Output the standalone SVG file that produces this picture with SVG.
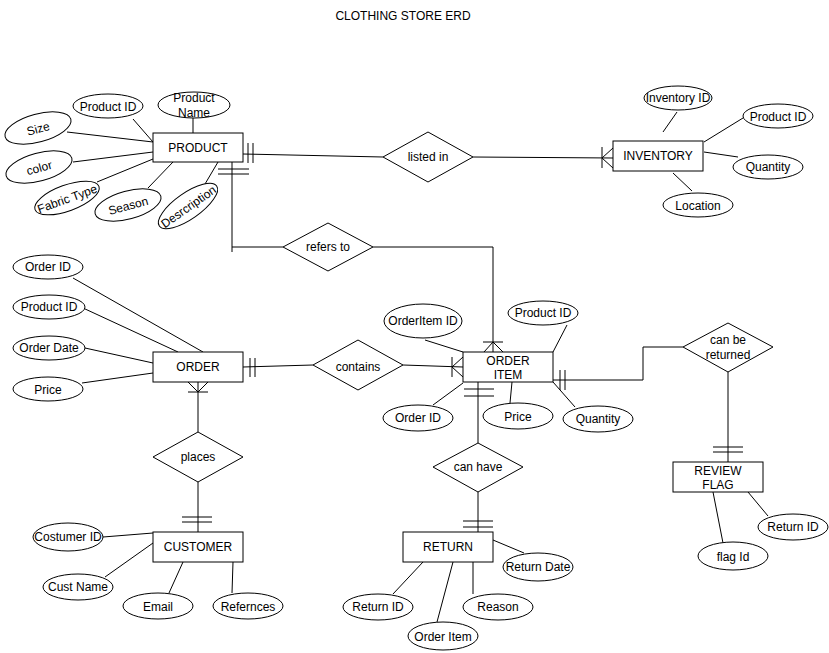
<svg xmlns="http://www.w3.org/2000/svg" width="829" height="653" viewBox="0 0 829 653">
<style>
text{font-family:"Liberation Sans",Arial,sans-serif;font-size:12px;fill:#000;text-anchor:middle;dominant-baseline:central;transform:translate(0px,1px)}
.e,.a ellipse,.a rect,.r rect,.d polygon{fill:#fff;stroke:#000;stroke-width:1}
line,polyline,path{stroke:#000;stroke-width:1;fill:none}
</style>
<rect x="0" y="0" width="829" height="653" fill="#fff"/>
<text x="403" y="15">CLOTHING STORE ERD</text>

<g id="connectors">
  <!-- attribute lines -->
  <line x1="133" y1="119" x2="153" y2="142"/>
  <line x1="193" y1="118" x2="193" y2="133"/>
  <line x1="67" y1="132" x2="153" y2="142"/>
  <line x1="73" y1="162" x2="153" y2="152"/>
  <line x1="97" y1="182" x2="153" y2="159"/>
  <line x1="148" y1="188" x2="173" y2="162"/>
  <line x1="205" y1="184" x2="218" y2="162"/>
  <line x1="677" y1="112" x2="663" y2="132"/>
  <line x1="743" y1="118" x2="704" y2="142"/>
  <line x1="704" y1="152" x2="738" y2="157"/>
  <line x1="673" y1="173" x2="692" y2="191"/>
  <line x1="73" y1="278" x2="203" y2="352"/>
  <line x1="83" y1="308" x2="178" y2="352"/>
  <line x1="85" y1="348" x2="153" y2="363"/>
  <line x1="82" y1="383" x2="153" y2="373"/>
  <line x1="425" y1="340" x2="463" y2="352"/>
  <line x1="567" y1="325" x2="553" y2="352"/>
  <line x1="433" y1="405" x2="463" y2="383"/>
  <line x1="512" y1="382" x2="510" y2="403"/>
  <line x1="553" y1="382" x2="575" y2="407"/>
  <line x1="103" y1="537" x2="153" y2="533"/>
  <line x1="105" y1="577" x2="153" y2="543"/>
  <line x1="183" y1="562" x2="169" y2="593"/>
  <line x1="233" y1="562" x2="232" y2="593"/>
  <line x1="493" y1="540" x2="524" y2="553"/>
  <line x1="423" y1="562" x2="393" y2="594"/>
  <line x1="453" y1="562" x2="437" y2="622"/>
  <line x1="473" y1="562" x2="473" y2="594"/>
  <line x1="748" y1="492" x2="768" y2="516"/>
  <line x1="713" y1="492" x2="723" y2="543"/>

  <!-- PRODUCT - listed in - INVENTORY -->
  <line x1="243" y1="154" x2="383" y2="157"/>
  <line x1="248" y1="143" x2="248" y2="163"/>
  <line x1="253" y1="143" x2="253" y2="163"/>
  <line x1="473" y1="157" x2="613" y2="158"/>
  <line x1="602" y1="147" x2="602" y2="168"/>
  <polyline points="613,148 602,158 613,168"/>

  <!-- PRODUCT - refers to - ORDER ITEM -->
  <line x1="232" y1="162" x2="232" y2="252"/>
  <line x1="218" y1="169" x2="249" y2="169"/>
  <line x1="218" y1="174" x2="249" y2="174"/>
  <line x1="232" y1="247" x2="283" y2="247"/>
  <polyline points="373,247 493,247 493,352"/>
  <line x1="483" y1="342" x2="503" y2="342"/>
  <polyline points="484,352 493,342 503,352"/>

  <!-- ORDER - contains - ORDER ITEM -->
  <line x1="243" y1="367" x2="313" y2="365"/>
  <line x1="250" y1="358" x2="250" y2="377"/>
  <line x1="255" y1="358" x2="255" y2="377"/>
  <line x1="403" y1="365" x2="463" y2="367"/>
  <line x1="452" y1="357" x2="452" y2="377"/>
  <polyline points="463,357 452,367 463,377"/>

  <!-- ORDER - places - CUSTOMER -->
  <line x1="198" y1="382" x2="198" y2="432"/>
  <line x1="188" y1="392" x2="208" y2="392"/>
  <polyline points="188,382 198,392 208,382"/>
  <line x1="198" y1="482" x2="198" y2="532"/>
  <line x1="182" y1="517" x2="212" y2="517"/>
  <line x1="182" y1="522" x2="212" y2="522"/>

  <!-- ORDER ITEM - can have - RETURN -->
  <line x1="478" y1="382" x2="478" y2="443"/>
  <line x1="464" y1="389" x2="494" y2="389" stroke="#666"/>
  <line x1="464" y1="396" x2="494" y2="396" stroke="#666"/>
  <line x1="478" y1="492" x2="478" y2="532"/>
  <line x1="463" y1="521" x2="493" y2="521" stroke="#666"/>
  <line x1="463" y1="527" x2="493" y2="527" stroke="#666"/>

  <!-- ORDER ITEM - can be returned - REVIEW FLAG -->
  <polyline points="553,380 643,380 643,347 683,347"/>
  <line x1="560" y1="370" x2="560" y2="390"/>
  <line x1="565" y1="370" x2="565" y2="390"/>
  <line x1="728" y1="372" x2="728" y2="462"/>
  <line x1="713" y1="447" x2="743" y2="447"/>
  <line x1="713" y1="452" x2="743" y2="452"/>
</g>

<!-- entities -->
<g id="product" class="r"><rect x="153" y="133" width="90" height="29"/><text x="198" y="147">PRODUCT</text></g>
<g id="inventory" class="r"><rect x="613" y="141" width="90" height="30"/><text x="658" y="155">INVENTORY</text></g>
<g id="order" class="r"><rect x="153" y="352" width="90" height="30"/><text x="198" y="366">ORDER</text></g>
<g id="order-item" class="r"><rect x="463" y="352" width="90" height="30"/><text x="508" y="360">ORDER</text><text x="508" y="374">ITEM</text></g>
<g id="customer" class="r"><rect x="153" y="532" width="90" height="30"/><text x="198" y="546">CUSTOMER</text></g>
<g id="return" class="r"><rect x="403" y="532" width="90" height="30"/><text x="448" y="546">RETURN</text></g>
<g id="review-flag" class="r"><rect x="673" y="462" width="90" height="30"/><text x="718" y="470">REVIEW</text><text x="718" y="484">FLAG</text></g>

<!-- relationships -->
<g id="listed-in" class="d"><polygon points="383,157 428,132 473,157 428,182"/><text x="428" y="156">listed in</text></g>
<g id="refers-to" class="d"><polygon points="283,247 328,223 373,247 328,271"/><text x="328" y="246">refers to</text></g>
<g id="contains" class="d"><polygon points="313,365 358,340 403,365 358,390"/><text x="358" y="366">contains</text></g>
<g id="places" class="d"><polygon points="153,457 198,432 243,457 198,482"/><text x="198" y="456">places</text></g>
<g id="can-have" class="d"><polygon points="433,467 478,443 523,467 478,492"/><text x="478" y="466">can have</text></g>
<g id="can-be-returned" class="d"><polygon points="683,347 728,323 773,347 728,372"/><text x="728" y="339">can be</text><text x="728" y="354">returned</text></g>

<!-- attributes: PRODUCT -->
<g id="p-product-id" class="a"><ellipse cx="108" cy="106" rx="35" ry="12"/><text x="108" y="106">Product ID</text></g>
<g id="p-product-name" class="a"><ellipse cx="194" cy="105" rx="36" ry="13"/><text x="194" y="97">Product</text><text x="194" y="112">Name</text></g>
<g id="p-size" class="a" transform="translate(38,128) rotate(-15)"><ellipse cx="0" cy="0" rx="34" ry="14"/><text x="0" y="0">Size</text></g>
<g id="p-color" class="a" transform="translate(39,167) rotate(-15)"><ellipse cx="0" cy="0" rx="34" ry="14"/><text x="0" y="0">color</text></g>
<g id="p-fabric" class="a" transform="translate(67,198) rotate(-20)"><ellipse cx="0" cy="0" rx="34" ry="13"/><text x="0" y="0">Fabric Type</text></g>
<g id="p-season" class="a" transform="translate(128,205) rotate(-15)"><ellipse cx="0" cy="0" rx="34" ry="14"/><text x="0" y="0">Season</text></g>
<g id="p-description" class="a" transform="translate(188,206) rotate(-35)"><ellipse cx="0" cy="0" rx="35" ry="13"/><text x="0" y="0">Desrcription</text></g>

<!-- attributes: INVENTORY -->
<g id="i-inventory-id" class="a"><ellipse cx="678" cy="98" rx="34" ry="12"/><text x="678" y="97">Inventory ID</text></g>
<g id="i-product-id" class="a"><ellipse cx="778" cy="116" rx="35" ry="12"/><text x="778" y="116">Product ID</text></g>
<g id="i-quantity" class="a"><ellipse cx="768" cy="167" rx="35" ry="12"/><text x="768" y="166">Quantity</text></g>
<g id="i-location" class="a"><ellipse cx="698" cy="205" rx="35" ry="12"/><text x="698" y="205">Location</text></g>

<!-- attributes: ORDER -->
<g id="o-order-id" class="a"><ellipse cx="48" cy="267" rx="35" ry="12"/><text x="48" y="266">Order ID</text></g>
<g id="o-product-id" class="a"><ellipse cx="49" cy="307" rx="36" ry="12"/><text x="49" y="306">Product ID</text></g>
<g id="o-order-date" class="a"><ellipse cx="49" cy="348" rx="36" ry="12"/><text x="49" y="347">Order Date</text></g>
<g id="o-price" class="a"><ellipse cx="48" cy="389" rx="35" ry="12"/><text x="48" y="389">Price</text></g>

<!-- attributes: ORDER ITEM -->
<g id="oi-orderitem-id" class="a"><ellipse cx="423" cy="321" rx="39" ry="17"/><text x="423" y="320">OrderItem ID</text></g>
<g id="oi-product-id" class="a"><ellipse cx="543" cy="313" rx="35" ry="12"/><text x="543" y="312">Product ID</text></g>
<g id="oi-order-id" class="a"><ellipse cx="418" cy="418" rx="35" ry="13"/><text x="418" y="417">Order ID</text></g>
<g id="oi-price" class="a"><ellipse cx="518" cy="416" rx="35" ry="13"/><text x="518" y="416">Price</text></g>
<g id="oi-quantity" class="a"><ellipse cx="598" cy="419" rx="35" ry="13"/><text x="598" y="418">Quantity</text></g>

<!-- attributes: CUSTOMER -->
<g id="c-costumer-id" class="a"><ellipse cx="68" cy="537" rx="35" ry="14"/><text x="68" y="536">Costumer ID</text></g>
<g id="c-cust-name" class="a"><ellipse cx="78" cy="587" rx="35" ry="13"/><text x="78" y="586">Cust Name</text></g>
<g id="c-email" class="a"><ellipse cx="158" cy="606" rx="35" ry="13"/><text x="158" y="606">Email</text></g>
<g id="c-refernces" class="a"><ellipse cx="248" cy="606" rx="35" ry="13"/><text x="248" y="606">Refernces</text></g>

<!-- attributes: RETURN -->
<g id="r-return-date" class="a"><ellipse cx="538" cy="567" rx="35" ry="14"/><text x="538" y="566">Return Date</text></g>
<g id="r-return-id" class="a"><ellipse cx="378" cy="607" rx="35" ry="13"/><text x="378" y="606">Return ID</text></g>
<g id="r-order-item" class="a"><ellipse cx="443" cy="636" rx="35" ry="14"/><text x="443" y="636">Order Item</text></g>
<g id="r-reason" class="a"><ellipse cx="498" cy="607" rx="35" ry="13"/><text x="498" y="606">Reason</text></g>

<!-- attributes: REVIEW FLAG -->
<g id="rf-return-id" class="a"><ellipse cx="793" cy="527" rx="35" ry="13"/><text x="793" y="526">Return ID</text></g>
<g id="rf-flag-id" class="a"><ellipse cx="733" cy="556" rx="35" ry="14"/><text x="733" y="556">flag Id</text></g>
</svg>
